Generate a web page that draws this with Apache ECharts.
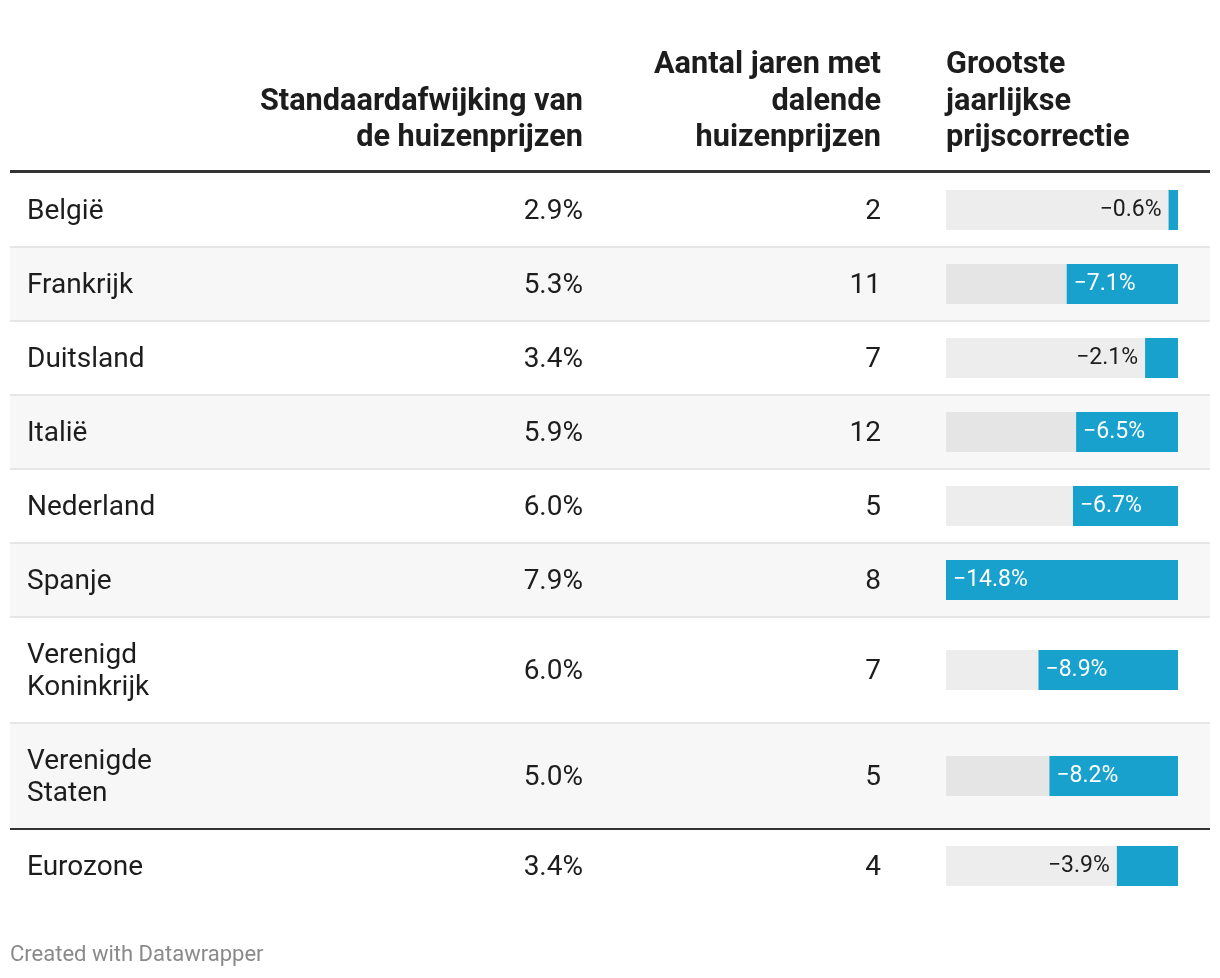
<!DOCTYPE html>
<html>
<head>
<meta charset="utf-8">
<script src="https://cdn.jsdelivr.net/npm/echarts@6/dist/echarts.min.js"></script>
<style>
html,body{margin:0;padding:0;background:#fff;}
#chart{width:1220px;height:978px;}
</style>
</head>
<body>
<div id="chart"></div>
<script>
// ---- data ----
const countries = ['België','Frankrijk','Duitsland','Italië','Nederland','Spanje','Verenigd\nKoninkrijk','Verenigde\nStaten','Eurozone'];
const stdDev = [2.9, 5.3, 3.4, 5.9, 6.0, 7.9, 6.0, 5.0, 3.4];
const yearsDeclining = [2, 11, 7, 12, 5, 8, 7, 5, 4];
const maxCorrection = [-0.6, -7.1, -2.1, -6.5, -6.7, -14.8, -8.9, -8.2, -3.9];
const headerStd = ['Standaardafwijking van', 'de huizenprijzen'];
const headerYears = ['Aantal jaren met', 'dalende', 'huizenprijzen'];
const headerCorr = ['Grootste', 'jaarlijkse', 'prijscorrectie'];
const footerText = 'Created with Datawrapper';

// ---- layout ----
const FONT = 'Roboto, "Noto Sans", sans-serif';
const tableLeft = 10, tableRight = 1210;
const tableTop = 173;
const rowBase = 74, extraLine = 32;
const col1X = 27, col2R = 583, col3R = 881, barLeft = 946, barW = 232, barH = 40;
const blue = '#18a1cd';
const textColor = '#1d1d1d';
const barMin = Math.min(...maxCorrection);

const rows = [];
let y = tableTop;
countries.forEach((c, i) => {
  const lines = c.split('\n').length;
  const h = rowBase + (lines - 1) * extraLine;
  rows.push({top: y, h: h, center: y + h / 2, lines: lines});
  y += h;
});

const fmtPct = v => v.toFixed(1) + '%';
const fmtNeg = v => (v < 0 ? '\u2212' : '') + Math.abs(v).toFixed(1) + '%';

const graphics = [];
// header lines
const hdrLineY = [65.5, 102, 138.5];
function addHeader(lines, x, align) {
  const offset = 3 - lines.length;
  lines.forEach((t, k) => {
    graphics.push({type: 'text', x: x, y: hdrLineY[k + offset], z: 10,
      style: {text: t, fill: textColor, font: 'bold 30.7px ' + FONT, align: align, verticalAlign: 'middle'}});
  });
}
addHeader(headerStd, col2R, 'right');
addHeader(headerYears, col3R, 'right');
addHeader(headerCorr, barLeft, 'left');

// row backgrounds
rows.forEach((r, i) => {
  if (i % 2 === 1) {
    graphics.push({type: 'rect', z: 0, shape: {x: tableLeft, y: r.top, width: tableRight - tableLeft, height: r.h},
      style: {fill: '#f7f7f7'}});
  }
});
// separators
rows.forEach((r, i) => {
  if (i === rows.length - 1) return;
  const yy = r.top + r.h;
  const dark = (i === rows.length - 2);
  graphics.push({type: 'line', z: 5, shape: {x1: tableLeft, y1: yy, x2: tableRight, y2: yy},
    style: {stroke: dark ? '#333' : '#e6e6e6', lineWidth: 2}});
});
// header rule
graphics.push({type: 'line', z: 5, shape: {x1: tableLeft, y1: tableTop - 1.5, x2: tableRight, y2: tableTop - 1.5},
  style: {stroke: '#333', lineWidth: 3}});

// cell texts
const textDy = 1.5;
rows.forEach((r, i) => {
  graphics.push({type: 'text', x: col1X, y: r.center + textDy, z: 10,
    style: {text: countries[i], fill: textColor, font: '28px ' + FONT, lineHeight: 32, align: 'left', verticalAlign: 'middle'}});
  graphics.push({type: 'text', x: col2R, y: r.center + textDy, z: 10,
    style: {text: fmtPct(stdDev[i]), fill: textColor, font: '28px ' + FONT, align: 'right', verticalAlign: 'middle'}});
  graphics.push({type: 'text', x: col3R, y: r.center + textDy, z: 10,
    style: {text: String(yearsDeclining[i]), fill: textColor, font: '28px ' + FONT, align: 'right', verticalAlign: 'middle'}});
});

// footer
graphics.push({type: 'text', x: 10, y: 955, z: 10,
  style: {text: footerText, fill: '#8a8a8a', font: '22px ' + FONT, align: 'left', verticalAlign: 'middle'}});

// bar column: one small grid per row
const grids = [], xAxes = [], yAxes = [], series = [];
rows.forEach((r, i) => {
  grids.push({left: barLeft, width: barW, top: r.center - barH / 2, height: barH, containLabel: false});
  xAxes.push({type: 'value', gridIndex: i, min: barMin, max: 0, show: false});
  yAxes.push({type: 'category', gridIndex: i, data: [countries[i]], show: false});
  const v = maxCorrection[i];
  const inside = Math.abs(v) > 5;
  series.push({
    type: 'bar', xAxisIndex: i, yAxisIndex: i, barWidth: barH,
    data: [v], silent: true, animation: false,
    itemStyle: {color: blue},
    showBackground: true,
    backgroundStyle: {color: 'rgba(0,0,0,0.07)'},
    label: {
      show: true,
      position: inside ? 'insideLeft' : 'left',
      distance: 7,
      formatter: p => fmtNeg(p.value),
      color: inside ? '#fff' : textColor,
      fontFamily: FONT, fontSize: 23
    }
  });
});

const chart = echarts.init(document.getElementById('chart'), null, {renderer: 'canvas'});
chart.setOption({
  animation: false,
  backgroundColor: '#fff',
  grid: grids, xAxis: xAxes, yAxis: yAxes, series: series,
  graphic: graphics
});
</script>
</body>
</html>
